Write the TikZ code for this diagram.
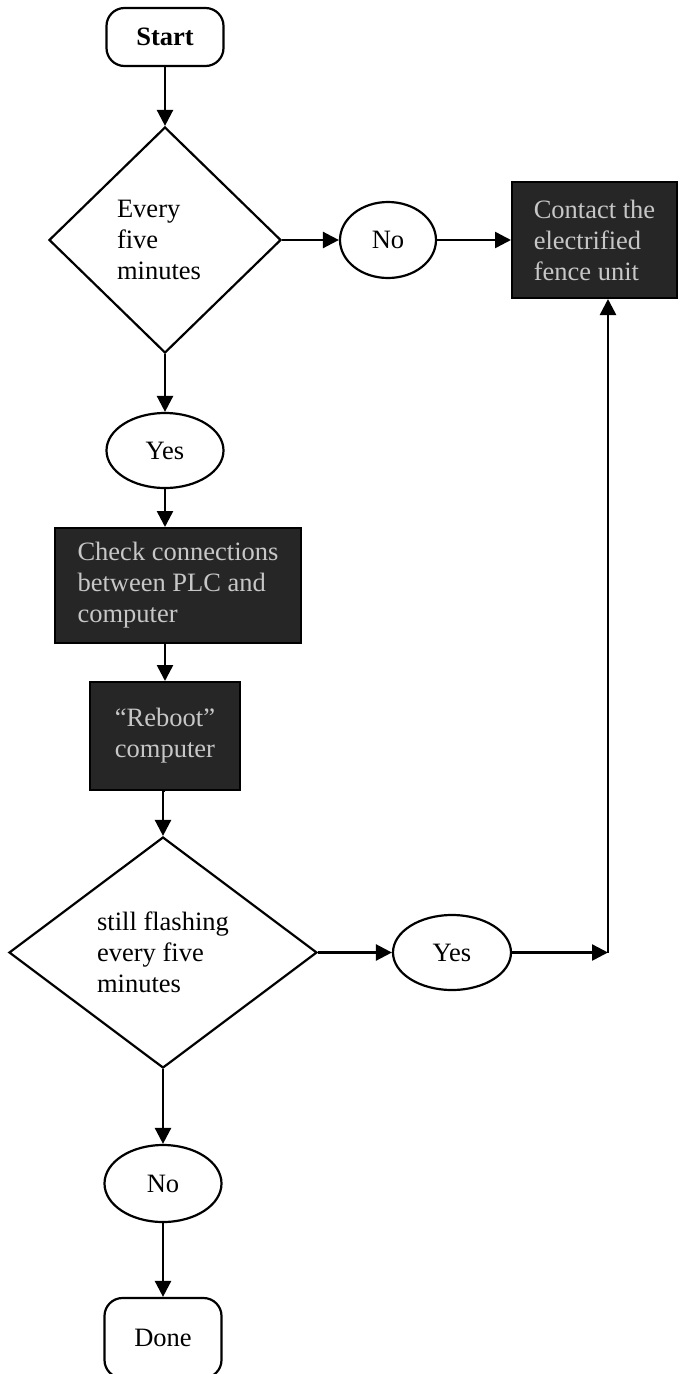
\documentclass[tikz,border=0pt]{standalone}
\usepackage{fontspec}
\setmainfont{Liberation Serif}
\usetikzlibrary{shapes.geometric,arrows.meta}
\begin{document}
\begin{tikzpicture}[x=1pt,y=-1pt,
  every node/.style={font=\fontsize{26.5}{31}\selectfont, inner sep=0pt},
  terminal/.style={draw, line width=2.2pt, rounded corners=18pt, minimum width=117pt},
  decision/.style={draw, diamond, line width=2.2pt, align=left},
  answer/.style={draw, ellipse, line width=2.2pt},
  darkbox/.style={draw=black, fill=black!85, text=white!78!black, line width=2pt, align=left},
  flow/.style={line width=2.5pt, -{Triangle[width=16pt,length=16pt]}},
]
\useasboundingbox (0,0) rectangle (682,1374);
\fill[white] (0,0) rectangle (682,1374);

\node[terminal, minimum height=58pt, font=\fontsize{26.5}{31}\selectfont\bfseries] (start) at (165,37) {Start};
\node[decision, minimum width=232pt, minimum height=226pt, aspect=1.03] (d1) at (165,240) {Every\\five\\minutes\hspace*{12pt}};
\node[answer, minimum width=96pt, minimum height=76pt] (no1) at (388,240) {No};
\node[darkbox, minimum width=165pt, minimum height=116pt] (contact) at (594.5,240) {Contact the\\electrified\\fence unit};
\node[answer, minimum width=117pt, minimum height=75pt] (yes1) at (165,450.5) {Yes};
\node[darkbox, minimum width=246pt, minimum height=115pt] (check) at (178,585.5) {Check connections\\between PLC and\\computer\hspace*{10pt}};
\node[darkbox, minimum width=150pt, minimum height=108pt] (reboot) at (165,736) {``Reboot''\\computer};
\node[decision, minimum width=308pt, minimum height=231pt, aspect=1.33] (d2) at (163,952.5) {still flashing\\every five\\minutes};
\node[answer, minimum width=118pt, minimum height=75pt] (yes2) at (452,952.5) {Yes};
\node[answer, minimum width=117pt, minimum height=77pt] (no2) at (163,1183.5) {No};
\node[terminal, minimum height=80pt] (done) at (163,1338) {Done};
\coordinate (corner) at (608,952.5);

\draw[flow] (start.south) -- (start.south |- d1.north);
\draw[flow] (d1.east) -- (no1.west);
\draw[flow] (no1.east) -- (no1.east -| contact.west);
\draw[flow] (d1.south) -- (d1.south |- yes1.north);
\draw[flow] (yes1.south) -- (yes1.south |- check.north);
\draw[flow] (reboot.north |- check.south) -- (reboot.north);
\draw[flow] (reboot.south) -- (reboot.south -| d2.north) -- (d2.north);
\draw[flow] (d2.east) -- (yes2.west);
\draw[flow] (yes2.east) -- (corner);
\draw[flow] (corner) -- (corner |- contact.south);
\draw[flow] (d2.south) -- (no2.north);
\draw[flow] (no2.south) -- (done.north);
\end{tikzpicture}
\end{document}
